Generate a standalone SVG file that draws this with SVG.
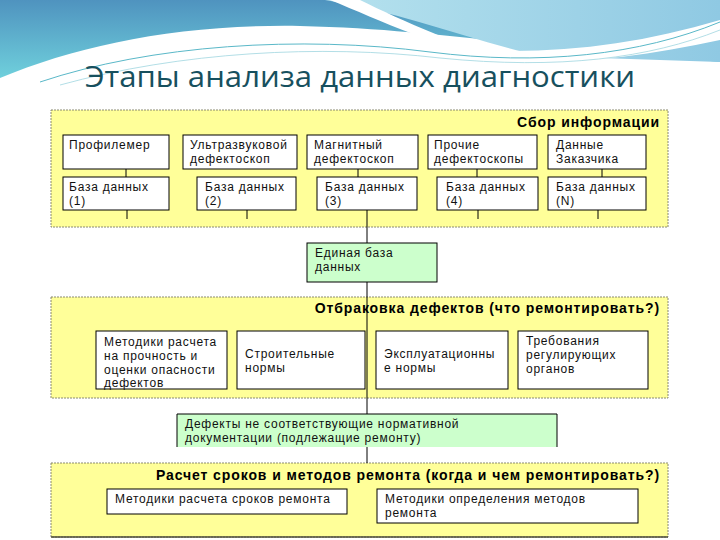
<svg xmlns="http://www.w3.org/2000/svg" width="720" height="540" viewBox="0 0 720 540">
<defs>
<linearGradient id="gTop" x1="0" y1="0" x2="0" y2="1">
<stop offset="0" stop-color="#4f93bf"/>
<stop offset="1" stop-color="#6fd0dc"/>
</linearGradient>
<linearGradient id="gRight" x1="0" y1="0" x2="1" y2="0">
<stop offset="0" stop-color="#b6e2ee"/>
<stop offset="1" stop-color="#8fc9e3"/>
</linearGradient>
<style>
.panel{fill:#FFFF99;stroke:#8a8a70;stroke-width:1;stroke-dasharray:2,1}
.box{fill:#ffffff;stroke:#000;stroke-width:1}
.gbox{fill:#CCFFCC;stroke:#000;stroke-width:1}
.t{font-family:"Liberation Sans",Arial,sans-serif;font-size:12px;letter-spacing:0.75px;fill:#111}
.h{font-family:"Liberation Sans",Arial,sans-serif;font-size:14px;letter-spacing:0.9px;font-weight:bold;fill:#000}
.ln{stroke:#000;stroke-width:1;fill:none}
</style>
</defs>
<rect width="720" height="540" fill="#ffffff"/>
<g id="header">
<path d="M0,0 H720 V62 C680,58 620,50 560,46 C470,40 400,28 300,26 C180,24 80,45 0,78 Z" fill="url(#gTop)"/>
<path d="M325,0 H720 V62 C660,60 600,58 540,56 C470,40 400,12 325,0 Z" fill="url(#gRight)"/>
<path d="M330,0 C380,20 440,50 510,60 C470,50 400,20 360,0 Z" fill="#ffffff"/>
<path d="M0,88 C120,40 260,22 420,45 C520,58 620,50 720,20 V40 C620,62 520,70 420,55 C260,36 120,50 0,95 Z" fill="#ffffff"/>
<path d="M40,82 C150,45 300,35 430,52 C540,66 640,55 720,22" fill="none" stroke="#5ab8c8" stroke-width="1"/>
<path d="M60,85 C180,52 320,44 440,58 C560,70 650,58 720,30" fill="none" stroke="#9fd6df" stroke-width="0.8"/>
<text x="85" y="87" font-family="'Open Sans','Noto Sans',sans-serif" font-size="30" fill="#17505e" textLength="550" lengthAdjust="spacingAndGlyphs">Этапы анализа данных диагностики</text>
</g>
<g id="panel-collect">
<rect class="panel" x="51" y="110" width="617" height="117"/>
<text class="h" x="660" y="127" text-anchor="end">Сбор информации</text>
</g>
<g id="panel-reject">
<rect class="panel" x="51" y="297" width="617" height="101"/>
<text class="h" x="660" y="313" text-anchor="end">Отбраковка дефектов (что ремонтировать?)</text>
</g>
<g id="panel-repair">
<rect class="panel" x="51" y="463" width="617" height="74"/>
<line x1="51" y1="537" x2="668" y2="537" stroke="#4a4a3a" stroke-width="1.5"/>
<text class="h" x="660" y="480" text-anchor="end">Расчет сроков и методов ремонта (когда и чем ремонтировать?)</text>
</g>
<g id="connectors">
<line class="ln" x1="126" y1="169" x2="126" y2="177"/>
<line class="ln" x1="358" y1="169" x2="358" y2="177"/>
<line class="ln" x1="477" y1="169" x2="477" y2="177"/>
<line class="ln" x1="602" y1="169" x2="602" y2="177"/>
<line class="ln" x1="127" y1="210" x2="127" y2="219"/>
<line class="ln" x1="247" y1="210" x2="247" y2="219"/>
<line class="ln" x1="478" y1="210" x2="478" y2="219"/>
<line class="ln" x1="598" y1="210" x2="598" y2="219"/>
<line class="ln" x1="367" y1="210" x2="367" y2="463"/>
</g>
<g id="n-profilemer"><rect class="box" x="63" y="135" width="106" height="34"/><text class="t" x="69" y="149">Профилемер</text></g>
<g id="n-ultra"><rect class="box" x="183" y="135" width="114" height="34"/><text class="t" x="190" y="149">Ультразвуковой</text><text class="t" x="190" y="163">дефектоскоп</text></g>
<g id="n-magnet"><rect class="box" x="307" y="135" width="111" height="34"/><text class="t" x="314" y="149">Магнитный</text><text class="t" x="314" y="163">дефектоскоп</text></g>
<g id="n-other"><rect class="box" x="428" y="135" width="109" height="34"/><text class="t" x="434" y="149">Прочие</text><text class="t" x="434" y="163">дефектоскопы</text></g>
<g id="n-client"><rect class="box" x="548" y="135" width="98" height="34"/><text class="t" x="556" y="149">Данные</text><text class="t" x="556" y="163">Заказчика</text></g>
<g id="n-db1"><rect class="box" x="63" y="177" width="106" height="33"/><text class="t" x="69" y="191">База данных</text><text class="t" x="69" y="205">(1)</text></g>
<g id="n-db2"><rect class="box" x="197" y="177" width="99" height="33"/><text class="t" x="205" y="191">База данных</text><text class="t" x="205" y="205">(2)</text></g>
<g id="n-db3"><rect class="box" x="317" y="177" width="100" height="33"/><text class="t" x="325" y="191">База данных</text><text class="t" x="325" y="205">(3)</text></g>
<g id="n-db4"><rect class="box" x="437" y="177" width="101" height="33"/><text class="t" x="446" y="191">База данных</text><text class="t" x="446" y="205">(4)</text></g>
<g id="n-dbn"><rect class="box" x="548" y="177" width="98" height="33"/><text class="t" x="556" y="191">База данных</text><text class="t" x="556" y="205">(N)</text></g>
<g id="n-unified"><rect class="gbox" x="307" y="243" width="130" height="39"/><text class="t" x="315" y="257">Единая база</text><text class="t" x="315" y="271">данных</text></g>
<g id="n-methods"><rect class="box" x="96" y="331" width="131" height="58"/><text class="t" x="104" y="346">Методики расчета</text><text class="t" x="104" y="360">на прочность и</text><text class="t" x="104" y="374">оценки опасности</text><text class="t" x="104" y="387">дефектов</text></g>
<g id="n-building"><rect class="box" x="237" y="331" width="128" height="58"/><text class="t" x="245" y="358">Строительные</text><text class="t" x="245" y="372">нормы</text></g>
<g id="n-operation"><rect class="box" x="376" y="331" width="132" height="58"/><text class="t" x="384" y="358">Эксплуатационны</text><text class="t" x="384" y="372">е нормы</text></g>
<g id="n-regulators"><rect class="box" x="518" y="331" width="130" height="58"/><text class="t" x="526" y="345">Требования</text><text class="t" x="526" y="359">регулирующих</text><text class="t" x="526" y="373">органов</text></g>
<g id="n-defects"><path d="M177,447 V414 H557 V447" fill="#CCFFCC" stroke="#000" stroke-width="1"/><text class="t" x="185" y="428">Дефекты не соответствующие нормативной</text><text class="t" x="185" y="442">документации (подлежащие ремонту)</text></g>
<g id="n-terms"><rect class="box" x="107" y="489" width="240" height="25"/><text class="t" x="115" y="503">Методики расчета сроков ремонта</text></g>
<g id="n-repairmethods"><rect class="box" x="377" y="489" width="261" height="34"/><text class="t" x="385" y="503">Методики определения методов</text><text class="t" x="385" y="517">ремонта</text></g>
</svg>
